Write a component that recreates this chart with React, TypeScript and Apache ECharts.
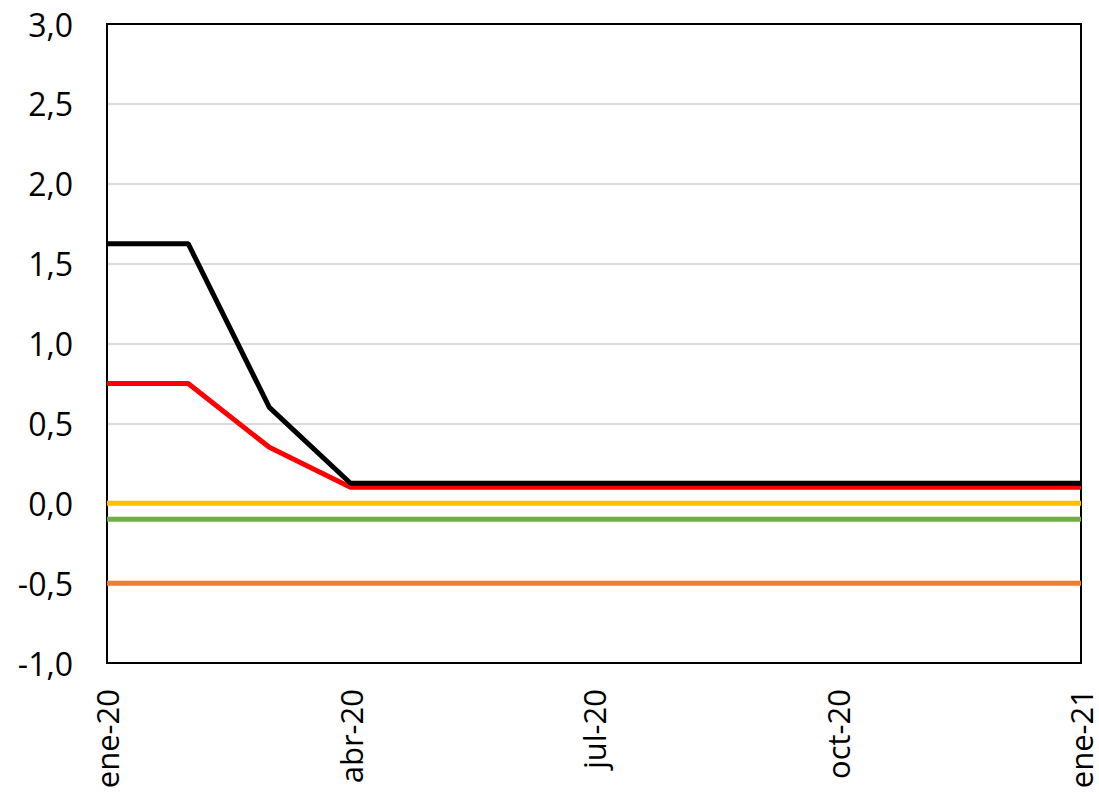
import React, { useEffect, useRef } from "react";
import * as echarts from "echarts";

const months = ["ene-20", "feb-20", "mar-20", "abr-20", "may-20", "jun-20", "jul-20", "ago-20", "sep-20", "oct-20", "nov-20", "dic-20", "ene-21"];
const fed = [1.625, 1.625, 0.6, 0.125, 0.125, 0.125, 0.125, 0.125, 0.125, 0.125, 0.125, 0.125, 0.125];
const boe = [0.75, 0.75, 0.35, 0.1, 0.1, 0.1, 0.1, 0.1, 0.1, 0.1, 0.1, 0.1, 0.1];
const ecbMain = [0, 0, 0, 0, 0, 0, 0, 0, 0, 0, 0, 0, 0];
const boj = [-0.1, -0.1, -0.1, -0.1, -0.1, -0.1, -0.1, -0.1, -0.1, -0.1, -0.1, -0.1, -0.1];
const ecbDeposit = [-0.5, -0.5, -0.5, -0.5, -0.5, -0.5, -0.5, -0.5, -0.5, -0.5, -0.5, -0.5, -0.5];

const FONT = "Open Sans";

export default function App() {
  const ref = useRef<HTMLDivElement>(null);
  useEffect(() => {
    if (!ref.current) return;
    const chart = echarts.init(ref.current, null, { renderer: "svg" });
    const mk = (name: string, data: number[], color: string, z: number) => ({
      name,
      type: "line",
      data,
      symbol: "none",
      z,
      lineStyle: { color, width: 5 },
      itemStyle: { color },
    });
    chart.setOption({
      animation: false,
      backgroundColor: "#ffffff",
      grid: {
        left: 107,
        top: 24,
        right: 18,
        bottom: 130,
        show: true,
        borderColor: "#000000",
        borderWidth: 2,
        containLabel: false,
      },
      xAxis: [
        {
          type: "category",
          data: months,
          boundaryGap: false,
          axisLine: { onZero: false, lineStyle: { color: "#000000", width: 2 } },
          axisTick: { show: false },
          axisLabel: {
            interval: 2,
            rotate: 90,
            margin: 26,
            color: "#000000",
            fontFamily: FONT,
            fontSize: 31,
            lineHeight: 28,
          },
          splitLine: { show: false },
        },
        {
          type: "category",
          data: months,
          boundaryGap: false,
          position: "top",
          axisLine: { show: true, onZero: false, lineStyle: { color: "#000000", width: 2 } },
          axisTick: { show: false },
          axisLabel: { show: false },
          splitLine: { show: false },
        },
      ],
      yAxis: [
        {
          type: "value",
          min: -1,
          max: 3,
          interval: 0.5,
          axisLine: { show: true, onZero: false, lineStyle: { color: "#000000", width: 2 } },
          axisTick: { show: false },
          axisLabel: {
            margin: 34,
            color: "#000000",
            fontFamily: FONT,
            fontSize: 32,
            formatter: (v: number) => v.toFixed(1).replace(".", ","),
          },
          splitLine: { lineStyle: { color: "#D9D9D9", width: 2 } },
        },
        {
          type: "value",
          min: -1,
          max: 3,
          interval: 0.5,
          position: "right",
          axisLine: { show: true, onZero: false, lineStyle: { color: "#000000", width: 2 } },
          axisTick: { show: false },
          axisLabel: { show: false },
          splitLine: { show: false },
        },
      ],
      series: [
        mk("Reino Unido", boe, "#FF0000", 2),
        mk("Estados Unidos", fed, "#000000", 3),
        mk("BCE (refinanciación)", ecbMain, "#FFC000", 2),
        mk("Japón", boj, "#70AD47", 2),
        mk("BCE (depósito)", ecbDeposit, "#ED7D31", 2),
      ],
    });
    return () => chart.dispose();
  }, []);
  return (
    <div
      ref={ref}
      style={{ position: "fixed", left: 0, top: 0, width: 1099, height: 793, background: "#fff" }}
    />
  );
}
